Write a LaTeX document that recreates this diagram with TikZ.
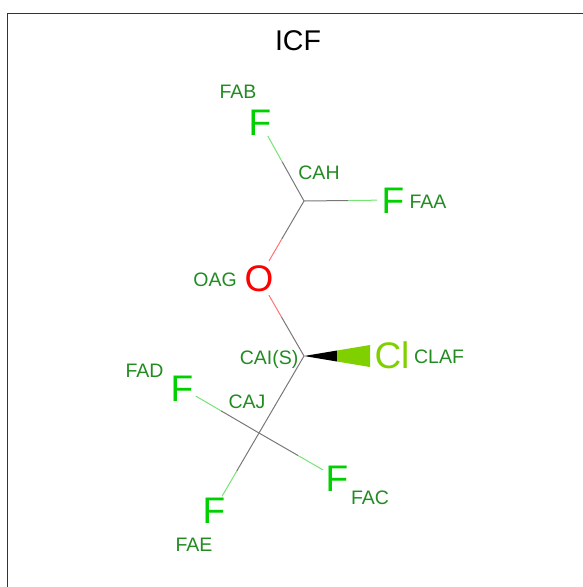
\documentclass[tikz,border=0pt]{standalone}
\usepackage{fontspec}
\setmainfont{Liberation Sans}
\usetikzlibrary{calc}
\definecolor{fluorine}{RGB}{0,208,0}
\definecolor{oxygen}{RGB}{255,0,0}
\definecolor{chlorine}{RGB}{128,208,0}
\definecolor{labelgreen}{RGB}{34,139,34}
\definecolor{bondgray}{RGB}{120,120,120}
\tikzset{
  font={\fontsize{19.5pt}{22pt}\selectfont}}
\begin{document}
\begin{tikzpicture}[x=1pt,y=-1pt]
        \tikzset{atomname/.style = {text=labelgreen, inner sep=0pt, text height=14pt, text depth=0pt}}
        \tikzset{atom/.style = {circle, inner sep=0pt, text height=26.5pt, text depth=0pt, font={\fontsize{37pt}{40pt}\selectfont}}}
        \tikzset{edge/.style = {line width=1pt}}
        \useasboundingbox (0,0) rectangle (583,587);

        % frame
        \coordinate (framea) at (7,587);
        \coordinate (frameb) at (7,13);
        \coordinate (framec) at (583,13);
        \draw[line width=1pt, black!80] (framea) -- (frameb) -- (framec);
        \node[inner sep=0pt, text height=20.5pt, text depth=0pt, font={\fontsize{28.5pt}{32pt}\selectfont}] (title) at (298,40) {ICF};

        % vertices
        \coordinate (cah) at (304,201);
        \coordinate (cai) at (304,356);
        \coordinate (caj) at (259,433);
        \node[atom, text=fluorine, outer sep=-1.4pt] (fab) at (260,122) {F};
        \node[atom, text=fluorine, outer sep=-1.4pt] (faa) at (393,200) {F};
        \node[atom, text=oxygen] (oag) at (259,278) {O};
        \node[atom, text=chlorine, outer sep=-1.4pt] (claf) at (392,355) {Cl};
        \node[atom, text=fluorine, outer sep=-1.4pt] (fad) at (182,388) {F};
        \node[atom, text=fluorine, outer sep=-1.4pt] (fac) at (337,478) {F};
        \node[atom, text=fluorine, outer sep=-1.4pt] (fae) at (214,510) {F};

        % names
        \node[atomname] (lfab) at (238,91) {FAB};
        \node[atomname] (lcah) at (319,172) {CAH};
        \node[atomname] (lfaa) at (428,201) {FAA};
        \node[atomname] (loag) at (215,279) {OAG};
        \node[atomname] (lcai) at (269,357) {CAI(S)};
        \node[atomname] (lclaf) at (439,356) {CLAF};
        \node[atomname] (lfad) at (144.5,370) {FAD};
        \node[atomname] (lcaj) at (247,401) {CAJ};
        \node[atomname] (lfac) at (370,497) {FAC};
        \node[atomname] (lfae) at (194,544) {FAE};

        %edges
        \foreach \from/\to/\col in {cah/fab/fluorine, cah/faa/fluorine, cah/oag/oxygen, cai/oag/oxygen,
                                    caj/fad/fluorine, caj/fac/fluorine, caj/fae/fluorine}{
          \draw[edge, bondgray] (\from) -- ($(\from)!.5!(\to)$);
          \draw[edge, \col!55] ($(\from)!.5!(\to)$) -- (\to);
        }
        \draw[edge, bondgray] (cai) -- (caj);

        % wedge
        \coordinate (wedgemid) at (337,356);
        \coordinate (wedgeend) at (370,356);
        \fill[black] (cai) -- ($(wedgemid)+(0,-5.5)$) -- ($(wedgemid)+(0,5.5)$) -- cycle;
        \fill[chlorine] ($(wedgemid)+(0,-5.5)$) -- ($(wedgeend)+(0,-11)$) -- ($(wedgeend)+(0,11)$) -- ($(wedgemid)+(0,5.5)$) -- cycle;
\end{tikzpicture}
\end{document}
